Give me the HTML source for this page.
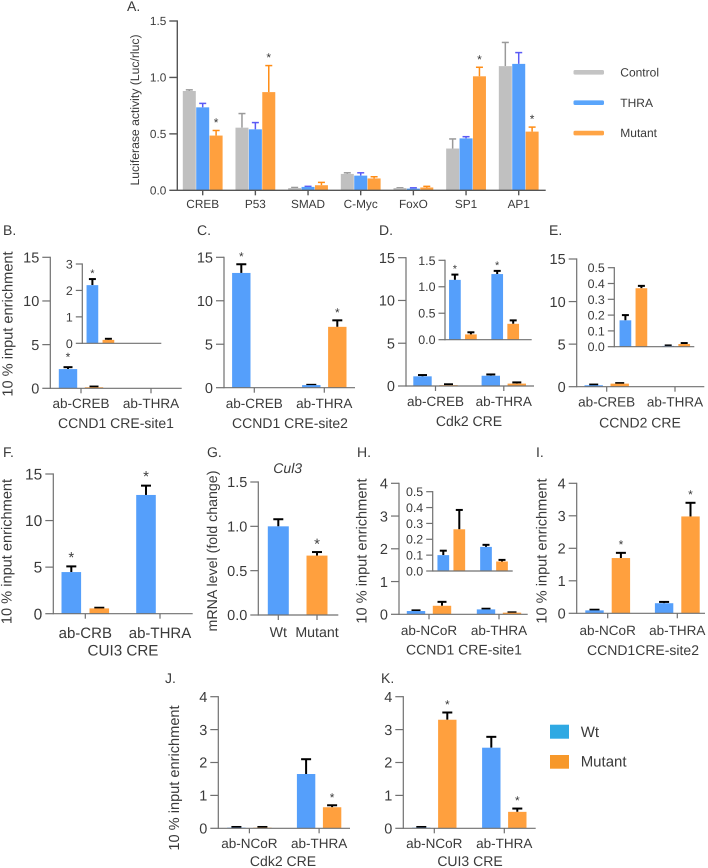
<!DOCTYPE html>
<html lang="en">
<head>
<meta charset="utf-8">
<title>Luciferase and ChIP enrichment panels</title>
<style>
html,body{margin:0;padding:0;background:#fff;}
svg{display:block;}
text{font-family:"Liberation Sans",Arial,sans-serif;fill:#3a3a3a;text-rendering:geometricPrecision;}
</style>
</head>
<body>
<svg id="figure" xmlns="http://www.w3.org/2000/svg" width="708" height="868" viewBox="0 0 708 868" style="filter:blur(0.35px)">
  <rect x="0" y="0" width="708" height="868" fill="#fff"/>

  <g font-size="14">
    <text x="127" y="11">A.</text>
    <text x="3" y="235">B.</text>
    <text x="197" y="235">C.</text>
    <text x="379" y="235">D.</text>
    <text x="549" y="235">E.</text>
    <text x="3" y="457">F.</text>
    <text x="207" y="457">G.</text>
    <text x="357" y="457">H.</text>
    <text x="536" y="457">I.</text>
    <text x="165" y="683">J.</text>
    <text x="381" y="683">K.</text>
  </g>

  <g id="panel-a">
    <text transform="translate(139,110) rotate(-90)" text-anchor="middle" font-size="12.2">Luciferase activity (Luc/rluc)</text>
  </g>
  <g font-size="12">
    <rect x="573.5" y="70" width="30.5" height="4.6" rx="1.5" fill="#c4c4c4"/>
    <text x="620.3" y="76.5">Control</text>
    <rect x="573.5" y="100.4" width="30.5" height="4.6" rx="1.5" fill="#5aa5fb"/>
    <text x="620.3" y="107">THRA</text>
    <rect x="573.5" y="130.8" width="30.5" height="4.6" rx="1.5" fill="#ffa445"/>
    <text x="620.3" y="137">Mutant</text>
  </g>

  <g id="panel-b">
    <text transform="translate(12.7,324) rotate(-90)" text-anchor="middle" font-size="14.6">10 % input enrichment</text>
    <text x="116" y="428" text-anchor="middle" font-size="14">CCND1 CRE-site1</text>
  </g>
  <g id="panel-c">
    <text x="290" y="428" text-anchor="middle" font-size="14">CCND1 CRE-site2</text>
  </g>
  <g id="panel-d">
    <text x="469" y="426" text-anchor="middle" font-size="14">Cdk2 CRE</text>
  </g>
  <g id="panel-e">
    <text x="640" y="427.5" text-anchor="middle" font-size="14">CCND2 CRE</text>
  </g>
  <g id="panel-f">
    <text transform="translate(11.7,551.5) rotate(-90)" text-anchor="middle" font-size="14.6">10 % input enrichment</text>
    <text x="123" y="655.7" text-anchor="middle" font-size="15.2">CUI3 CRE</text>
  </g>
  <g id="panel-g">
    <text transform="translate(217,551) rotate(-90)" text-anchor="middle" font-size="14.2">mRNA level (fold change)</text>
    <text x="287.7" y="473" text-anchor="middle" font-size="14" font-style="italic">Cul3</text>
  </g>
  <g id="panel-h">
    <text transform="translate(366.7,551) rotate(-90)" text-anchor="middle" font-size="14.6">10 % input enrichment</text>
    <text x="464" y="654.5" text-anchor="middle" font-size="14">CCND1 CRE-site1</text>
  </g>
  <g id="panel-i">
    <text transform="translate(546.7,551) rotate(-90)" text-anchor="middle" font-size="14.6">10 % input enrichment</text>
    <text x="643" y="655" text-anchor="middle" font-size="14">CCND1CRE-site2</text>
  </g>
  <g id="panel-j">
    <text transform="translate(179,778) rotate(-90)" text-anchor="middle" font-size="14.6">10 % input enrichment</text>
    <text x="283" y="866" text-anchor="middle" font-size="14">Cdk2 CRE</text>
  </g>
  <g id="panel-k">
    <text x="470" y="866" text-anchor="middle" font-size="14">CUI3 CRE</text>
  </g>

  <g font-size="15">
    <rect x="550" y="724.7" width="19" height="14" fill="#2fa9e3"/>
    <text x="580.7" y="737">Wt</text>
    <rect x="550" y="755" width="19" height="13.7" fill="#f7982a"/>
    <text x="580.7" y="766.5">Mutant</text>
  </g>
</svg>

<script>
// ---- Panel A data
const aCategories = ['CREB', 'P53', 'SMAD', 'C-Myc', 'FoxO', 'SP1', 'AP1'];
const aTicks = ['0.0', '0.5', '1.0', '1.5'];
const aControl = [0.88, 0.555, 0.02, 0.145, 0.02, 0.37, 1.10];
const aControlTop = [0.89, 0.68, 0.025, 0.155, 0.022, 0.455, 1.31];
const aThra = [0.735, 0.54, 0.03, 0.13, 0.015, 0.46, 1.12];
const aThraTop = [0.77, 0.60, 0.035, 0.155, 0.022, 0.475, 1.22];
const aMutant = [0.485, 0.87, 0.045, 0.105, 0.025, 1.01, 0.52];
const aMutantTop = [0.53, 1.105, 0.07, 0.12, 0.035, 1.09, 0.56];
const aMutantStars = [1, 1, 0, 0, 0, 1, 1];

// ---- Shared categories and ticks
const crebCategories = ['ab-CREB', 'ab-THRA'];
const crbCategories = ['ab-CRB', 'ab-THRA'];
const ncorCategories = ['ab-NCoR', 'ab-THRA'];
const gCategories = ['Wt', 'Mutant'];
const ticks15 = ['0', '5', '10', '15'];
const ticks4 = ['0', '1', '2', '3', '4'];
const ticks3 = ['0', '1', '2', '3'];
const ticks15Dec = ['0.0', '0.5', '1.0', '1.5'];
const ticks05 = ['0.0', '0.1', '0.2', '0.3', '0.4', '0.5'];

// ---- Panel B
const bWt = [2.2, 0];
const bWtTop = [2.42, 0];
const bMut = [0.12, 0];
const bMutTop = [0.2, 0];
const bWtStars = [1, 0];
const bInsetWt = [2.2, 0];
const bInsetWtTop = [2.43, 0];
const bInsetMut = [0.13, 0];
const bInsetMutTop = [0.17, 0];
const bInsetWtStars = [1, 0];

// ---- Panel C
const cWt = [13.2, 0.3];
const cWtTop = [14.2, 0.33];
const cMut = [0, 7.0];
const cMutTop = [0, 7.75];
const cWtStars = [1, 0];
const cMutStars = [0, 1];

// ---- Panel D
const dWt = [1.13, 1.2];
const dWtTop = [1.28, 1.35];
const dMut = [0.1, 0.28];
const dMutTop = [0.2, 0.42];
const dInsetWt = [1.13, 1.24];
const dInsetWtTop = [1.23, 1.3];
const dInsetMut = [0.1, 0.3];
const dInsetMutTop = [0.14, 0.365];
const dInsetWtStars = [1, 1];

// ---- Panel E
const eWt = [0.17, 0];
const eWtTop = [0.25, 0];
const eMut = [0.36, 0];
const eMutTop = [0.42, 0];
const eInsetWt = [0.167, 0.005];
const eInsetWtTop = [0.2, 0.008];
const eInsetMut = [0.37, 0.017];
const eInsetMutTop = [0.385, 0.023];

// ---- Panel F
const fWt = [4.47, 12.75];
const fWtTop = [5.08, 13.75];
const fMut = [0.57, 0];
const fMutTop = [0.64, 0];
const fWtStars = [1, 1];

// ---- Panel G
const gWt = [1.0, 0];
const gWtTop = [1.08, 0];
const gMut = [0, 0.67];
const gMutTop = [0, 0.71];
const gMutStars = [0, 1];

// ---- Panel H
const hWt = [0.1, 0.15];
const hWtTop = [0.12, 0.17];
const hMut = [0.26, 0.05];
const hMutTop = [0.38, 0.06];
const hInsetWt = [0.1, 0.152];
const hInsetWtTop = [0.128, 0.165];
const hInsetMut = [0.263, 0.06];
const hInsetMutTop = [0.385, 0.07];

// ---- Panel I
const iWt = [0.09, 0.31];
const iWtTop = [0.11, 0.35];
const iMut = [1.7, 2.98];
const iMutTop = [1.86, 3.4];
const iMutStars = [1, 1];

// ---- Panel J
const jWt = [0.02, 1.65];
const jWtTop = [0.04, 2.1];
const jMut = [0.02, 0.64];
const jMutTop = [0.04, 0.7];
const jMutStars = [0, 1];

// ---- Panel K
const kWt = [0.02, 2.45];
const kWtTop = [0.04, 2.78];
const kMut = [3.3, 0.5];
const kMutTop = [3.52, 0.6];
const kMutStars = [1, 1];

const SVG_NS = 'http://www.w3.org/2000/svg';
const BLUE = '#559ffb';
const ORANGE = '#ffa03e';
const GRAY = '#c0c0c0';

function shape(parent, tag, attrs) {
  const node = document.createElementNS(SVG_NS, tag);
  for (const key in attrs) node.setAttribute(key, attrs[key]);
  parent.appendChild(node);
  return node;
}

function drawPanel(panelId, c) {
  const host = document.getElementById(panelId);
  const group = shape(host, 'g', {});
  
  

  const tickNums = c.ticks.map(Number);
  const yMax = tickNums[tickNums.length - 1];
  const y = v => c.yBase + (c.yTop - c.yBase) * v / yMax;
  const x = i => c.first + c.step * i;

  // bars and error bars first
  c.series.forEach(s => {
    s.values.forEach((v, i) => {
      if (!(v > 0)) return;
      const cx = x(i) + s.offset;
      const barY = y(v);
      const top = y(s.tops[i]);
      const stem = shape(group, 'line', {x1: cx, x2: cx, y1: barY, y2: top, stroke: s.err, 'stroke-width': c.errW});
      
      
      const cap = shape(group, 'line', {x1: cx - c.capW / 2, x2: cx + c.capW / 2, y1: top, y2: top, stroke: s.err, 'stroke-width': c.errW});
      
      
      const bar = shape(group, 'rect', {x: cx - c.barW / 2, y: barY, width: c.barW, height: c.yBase - barY, fill: s.color});
      
      
      if (s.stars && s.stars[i]) {
        const star = shape(group, 'text', {x: cx, y: top - c.starGap, 'text-anchor': 'middle', 'font-size': c.starSize});
        
        
        star.textContent = '*';
      }
    });
  });

  // axes
  const yAxis = shape(group, 'line', {x1: c.axisX, x2: c.axisX, y1: c.yTop - 0.6, y2: c.yBase + 0.6, stroke: c.axisColor, 'stroke-width': c.axisW});
  
  
  const xAxis = shape(group, 'line', {x1: c.axisX, x2: c.xEnd, y1: c.yBase, y2: c.yBase, stroke: c.axisColor, 'stroke-width': c.axisW});
  
  

  c.ticks.forEach((label, i) => {
    const ty = y(tickNums[i]);
    const tick = shape(group, 'line', {x1: c.axisX - c.tickLen, x2: c.axisX, y1: ty, y2: ty, stroke: c.axisColor, 'stroke-width': c.axisW});
    
    
    const text = shape(group, 'text', {x: c.axisX - c.tickLen - c.labelGap, y: ty + c.tickFont * 0.36, 'text-anchor': 'end', 'font-size': c.tickFont});
    
    
    text.textContent = label;
  });

  if (c.categories) {
    c.categories.forEach((label, i) => {
      const tick = shape(group, 'line', {x1: x(i), x2: x(i), y1: c.yBase, y2: c.yBase + 5, stroke: c.axisColor, 'stroke-width': c.axisW});
      
      
      const text = shape(group, 'text', {x: x(i) + (c.labelShift || 0), y: c.catY, 'text-anchor': 'middle', 'font-size': c.catFont});
      
      
      text.textContent = label;
    });
  }
}

function wtMut(off, wt, wtTop, mut, mutTop, wtStars, mutStars) {
  return [
    {key: 'wt', color: BLUE, err: '#000', offset: -off, values: wt, tops: wtTop, stars: wtStars},
    {key: 'mutant', color: ORANGE, err: '#000', offset: off, values: mut, tops: mutTop, stars: mutStars}
  ];
}

const mainStyle = {axisColor: '#707070', axisW: 1.2, tickLen: 8, labelGap: 3, tickFont: 14.5, catFont: 13.5, barW: 18.4, errW: 2, capW: 9, starGap: 4, starSize: 12};
const insetStyle = {axisColor: '#707070', axisW: 1.2, tickLen: 6.5, labelGap: 3, tickFont: 12.4, barW: 11.7, errW: 2, capW: 7, starGap: 2, starSize: 11};

drawPanel('panel-a', {name: 'luciferase-plot', axisColor: '#555', axisW: 1.4, tickLen: 8, labelGap: 3, tickFont: 11.8, catFont: 11.8, catY: 208, labelShift: 0,
  axisX: 177.3, xEnd: 545.7, yTop: 21, yBase: 190.3, first: 202.7, step: 52.67, barW: 13, errW: 1.5, capW: 7, starGap: 4, starSize: 12,
  ticks: aTicks, categories: aCategories,
  series: [
    {key: 'control', color: GRAY, err: '#9a9a9a', offset: -13.4, values: aControl, tops: aControlTop},
    {key: 'thra', color: BLUE, err: '#5a5af5', offset: 0, values: aThra, tops: aThraTop},
    {key: 'mutant', color: ORANGE, err: '#ff8c14', offset: 13.4, values: aMutant, tops: aMutantTop, stars: aMutantStars}
  ]});

drawPanel('panel-b', Object.assign({}, mainStyle, {name: 'main-plot', axisX: 50.3, xEnd: 181.7, yTop: 257.3, yBase: 388.3, first: 81, step: 70, catY: 408, starGap: 6,
  ticks: ticks15, categories: crebCategories, series: wtMut(13, bWt, bWtTop, bMut, bMutTop, bWtStars)}));
drawPanel('panel-b', Object.assign({}, insetStyle, {name: 'inset-plot', axisX: 82.3, xEnd: 161.3, yTop: 264, yBase: 343.3, first: 100.4, step: 70,
  ticks: ticks3, series: wtMut(8, bInsetWt, bInsetWtTop, bInsetMut, bInsetMutTop, bInsetWtStars)}));

drawPanel('panel-c', Object.assign({}, mainStyle, {name: 'main-plot', axisX: 224, xEnd: 355, yTop: 257.3, yBase: 387.7, first: 254.3, step: 70, catY: 408, capW: 10,
  ticks: ticks15, categories: crebCategories, series: wtMut(13, cWt, cWtTop, cMut, cMutTop, cWtStars, cMutStars)}));

drawPanel('panel-d', Object.assign({}, mainStyle, {name: 'main-plot', axisX: 406, xEnd: 534, yTop: 257.7, yBase: 386, first: 435.5, step: 68.3, catY: 406,
  ticks: ticks15, categories: crebCategories, series: wtMut(13, dWt, dWtTop, dMut, dMutTop)}));
drawPanel('panel-d', Object.assign({}, insetStyle, {name: 'inset-plot', axisX: 445, xEnd: 531.7, yTop: 260.3, yBase: 339.7, first: 462.9, step: 42.3,
  ticks: ticks15Dec, series: wtMut(8, dInsetWt, dInsetWtTop, dInsetMut, dInsetMutTop, dInsetWtStars)}));

drawPanel('panel-e', Object.assign({}, mainStyle, {name: 'main-plot', axisX: 576.7, xEnd: 704.3, yTop: 259, yBase: 386.7, first: 606.7, step: 68.3, catY: 406.7,
  ticks: ticks15, categories: crebCategories, series: wtMut(13, eWt, eWtTop, eMut, eMutTop)}));
drawPanel('panel-e', Object.assign({}, insetStyle, {name: 'inset-plot', axisX: 614.3, xEnd: 694.3, yTop: 267.7, yBase: 346.7, first: 633.4, step: 42.8,
  ticks: ticks05, series: wtMut(8, eInsetWt, eInsetWtTop, eInsetMut, eInsetMutTop)}));

drawPanel('panel-f', Object.assign({}, mainStyle, {name: 'main-plot', axisX: 53.3, xEnd: 192.7, yTop: 474, yBase: 613.7, first: 85.3, step: 74.7, catY: 638, barW: 19.6, capW: 10, tickFont: 15.5, catFont: 15, starSize: 15, starGap: 4,
  ticks: ticks15, categories: crbCategories, series: wtMut(14, fWt, fWtTop, fMut, fMutTop, fWtStars)}));

drawPanel('panel-g', Object.assign({}, mainStyle, {name: 'main-plot', axisX: 258.3, xEnd: 338.3, yTop: 482, yBase: 615, first: 278.3, step: 38.7, catY: 637, barW: 21, capW: 10, tickFont: 14.5, catFont: 14.2, starSize: 15, starGap: 3,
  ticks: ticks15Dec, categories: gCategories, series: wtMut(0, gWt, gWtTop, gMut, gMutTop, null, gMutStars)}));

drawPanel('panel-h', Object.assign({}, mainStyle, {name: 'main-plot', axisX: 399, xEnd: 527.7, yTop: 483.3, yBase: 614.3, first: 429, step: 70, catY: 635,
  ticks: ticks4, categories: ncorCategories, series: wtMut(13, hWt, hWtTop, hMut, hMutTop)}));
drawPanel('panel-h', Object.assign({}, insetStyle, {name: 'inset-plot', axisX: 432.7, xEnd: 512.7, yTop: 491.7, yBase: 571, first: 451.3, step: 42.7,
  ticks: ticks05, series: wtMut(8, hInsetWt, hInsetWtTop, hInsetMut, hInsetMutTop)}));

drawPanel('panel-i', Object.assign({}, mainStyle, {name: 'main-plot', axisX: 576.7, xEnd: 705, yTop: 483.3, yBase: 613.3, first: 607.7, step: 69.6, catY: 635, starGap: 4.5, capW: 10,
  ticks: ticks4, categories: ncorCategories, series: wtMut(13.2, iWt, iWtTop, iMut, iMutTop, null, iMutStars)}));

drawPanel('panel-j', Object.assign({}, mainStyle, {name: 'main-plot', axisX: 218.3, xEnd: 350, yTop: 696.7, yBase: 828.3, first: 249.4, step: 69.7, catY: 848, capW: 10,
  ticks: ticks4, categories: ncorCategories, series: wtMut(13, jWt, jWtTop, jMut, jMutTop, null, jMutStars)}));

drawPanel('panel-k', Object.assign({}, mainStyle, {name: 'main-plot', axisX: 403.3, xEnd: 535.7, yTop: 696.7, yBase: 828.3, first: 434.3, step: 70, catY: 848, capW: 10,
  ticks: ticks4, categories: ncorCategories, series: wtMut(13, kWt, kWtTop, kMut, kMutTop, null, kMutStars)}));
</script>
</body>
</html>
